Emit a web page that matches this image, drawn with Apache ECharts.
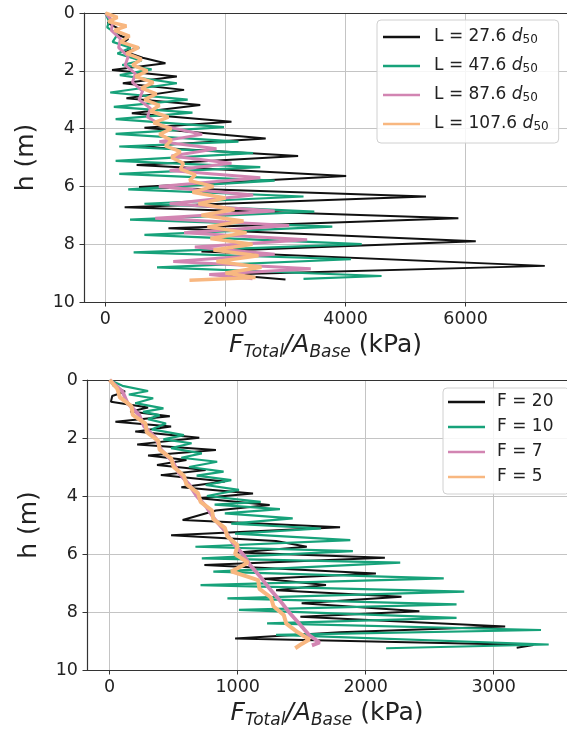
<!DOCTYPE html>
<html><head><meta charset="utf-8">
<script src="https://cdn.jsdelivr.net/npm/echarts@6/dist/echarts.min.js"></script>
<style>html,body{margin:0;padding:0;background:#fff}#c{width:567px;height:731px}</style>
</head><body><div id="c"></div>
<script>
// ---------- Top panel: L variation ----------
const topNames = ['L = 27.6 d50', 'L = 47.6 d50', 'L = 87.6 d50', 'L = 107.6 d50'];
const topTicks = [0, 2000, 4000, 6000];
const tbH = [0, 0.2, 0.35, 0.55, 0.7, 0.9, 1.05, 1.2, 1.34, 1.55,
  1.74, 1.97, 2.2, 2.43, 2.66, 2.95, 3.18, 3.47, 3.76, 3.97,
  4.34, 4.62, 4.95, 5.26, 5.64, 6.02, 6.35, 6.72, 7.1, 7.45,
  7.9, 8.25, 8.75, 9.05, 9.22];
const tbF = [0, 90, 40, 230, 150, 380, 280, 560, 330, 620,
  1000, 110, 1190, 290, 1310, 350, 1580, 440, 2100, 650,
  2670, 520, 3210, 520, 4010, 560, 5340, 320, 5880, 1050,
  6170, 1600, 7320, 2000, 3000];
const tgH = [0, 0.3, 0.5, 0.75, 1.0, 1.2, 1.4, 1.65, 1.8, 1.95,
  2.15, 2.43, 2.75, 3.0, 3.25, 3.45, 3.67, 3.95, 4.18, 4.45,
  4.62, 4.85, 5.12, 5.33, 5.57, 5.8, 6.1, 6.35, 6.6, 6.87,
  7.15, 7.39, 7.68, 8.0, 8.28, 8.52, 8.8, 9.1, 9.2];
const tgF = [0, 60, 30, 200, 120, 420, 200, 600, 280, 770,
  240, 1190, 80, 1370, 140, 1450, 170, 1975, 170, 2216,
  230, 2460, 170, 2580, 230, 2820, 380, 3300, 650, 3480,
  410, 3780, 650, 4270, 470, 4090, 860, 4600, 3300];
const tpH = [0, 0.3, 0.6, 0.9, 1.2, 1.5, 1.8, 2.1, 2.4, 2.7,
  3.0, 3.3, 3.6, 3.9, 4.2, 4.45, 4.7, 4.95, 5.2, 5.45,
  5.7, 6.0, 6.3, 6.6, 6.85, 7.1, 7.35, 7.6, 7.85, 8.1,
  8.35, 8.6, 8.85, 9.05, 9.2];
const tpF = [0, 120, 100, 250, 220, 380, 330, 500, 450, 620,
  560, 750, 700, 950, 1610, 900, 1850, 1100, 2100, 1070,
  2580, 890, 2460, 1070, 2820, 830, 3060, 1310, 3360, 1490,
  2820, 1130, 3420, 1730, 2450];
const toH = [0, 0.15, 0.3, 0.45, 0.6, 0.8, 1.0, 1.2, 1.4, 1.6,
  1.8, 2.0, 2.2, 2.4, 2.6, 2.8, 3.0, 3.2, 3.4, 3.6,
  3.8, 4.0, 4.2, 4.4, 4.6, 4.8, 5.0, 5.2, 5.4, 5.6,
  5.8, 6.0, 6.2, 6.4, 6.6, 6.8, 7.0, 7.2, 7.4, 7.6,
  7.8, 8.0, 8.2, 8.4, 8.6, 8.8, 9.0, 9.15, 9.25];
const toF = [0, 200, 50, 350, 150, 400, 250, 550, 350, 600,
  450, 700, 500, 800, 600, 850, 650, 900, 750, 1050,
  800, 1100, 900, 1100, 1000, 1250, 1100, 1300, 1250, 1500,
  1400, 1800, 1450, 2000, 1550, 2150, 1600, 2300, 1700, 2350,
  1750, 2450, 1800, 2550, 1850, 2600, 2000, 2500, 1400];

// ---------- Bottom panel: F variation ----------
const botNames = ['F = 20', 'F = 10', 'F = 7', 'F = 5'];
const botTicks = [0, 1000, 2000, 3000];
const bbH = [0, 0.2, 0.4, 0.55, 0.75, 0.95, 1.09, 1.25, 1.44, 1.6,
  1.78, 1.99, 2.22, 2.41, 2.6, 2.76, 2.93, 3.1, 3.28, 3.5,
  3.7, 3.91, 4.08, 4.31, 4.5, 4.83, 5.08, 5.35, 5.55, 5.75,
  5.95, 6.13, 6.38, 6.67, 6.85, 7.07, 7.25, 7.47, 7.7, 7.97,
  8.16, 8.5, 8.7, 8.91, 9.14, 9.23];
const bbF = [0, 30, 120, 20, 10, 300, 160, 470, 45, 480,
  200, 700, 215, 830, 300, 600, 370, 750, 400, 900,
  560, 1120, 700, 1250, 830, 570, 1800, 480, 1300, 1540,
  1000, 2150, 740, 2080, 1200, 1690, 1300, 2280, 1500, 2420,
  1490, 3090, 1800, 980, 3310, 3180];
const bgH = [0, 0.2, 0.38, 0.5, 0.63, 0.8, 0.98, 1.1, 1.21, 1.35,
  1.5, 1.7, 1.9, 2.05, 2.18, 2.35, 2.53, 2.68, 2.82, 3.0,
  3.16, 3.3, 3.45, 3.62, 3.79, 4.0, 4.2, 4.3, 4.45, 4.6,
  4.77, 4.95, 5.12, 5.3, 5.52, 5.75, 5.9, 6.15, 6.3, 6.61,
  6.84, 7.07, 7.3, 7.53, 7.74, 7.93, 8.2, 8.39, 8.62, 8.79,
  9.12, 9.25];
const bgF = [0, 100, 300, 150, 340, 200, 420, 260, 390, 300,
  440, 330, 580, 420, 640, 480, 720, 560, 840, 620,
  890, 680, 950, 750, 1010, 760, 1180, 820, 1330, 900,
  1430, 950, 1650, 980, 1880, 670, 1900, 720, 2270, 810,
  2610, 710, 2770, 920, 2710, 1010, 2710, 1230, 3370, 1300,
  3430, 2160];
const bpH = [0, 0.4, 0.8, 1.2, 1.6, 2.0, 2.4, 2.8, 3.2, 3.6,
  4.0, 4.4, 4.8, 5.2, 5.6, 6.0, 6.4, 6.8, 7.2, 7.6,
  8.0, 8.4, 8.8, 9.05, 9.15];
const bpF = [0, 100, 140, 230, 270, 360, 400, 490, 540, 620,
  680, 760, 820, 900, 960, 1040, 1100, 1180, 1250, 1330,
  1400, 1480, 1560, 1640, 1580];
const boH = [0, 0.3, 0.6, 0.9, 1.2, 1.5, 1.8, 2.1, 2.4, 2.7,
  3.0, 3.3, 3.6, 3.9, 4.2, 4.5, 4.8, 5.1, 5.4, 5.7,
  6.0, 6.3, 6.6, 6.9, 7.2, 7.5, 7.8, 8.1, 8.4, 8.7,
  8.95, 9.1, 9.25];
const boF = [0, 60, 80, 170, 180, 280, 290, 380, 390, 480,
  500, 580, 600, 690, 710, 800, 810, 900, 920, 1000,
  980, 1080, 950, 1160, 1170, 1260, 1280, 1360, 1380, 1470,
  1560, 1500, 1450];

const yTicksMax = 10;
const colors = ['#111111', '#17a27a', '#d285b2', '#f8b780'];
const topWidths = [2, 2.2, 3, 3.5];
const botWidths = [2, 2.2, 3.8, 4];
const SPINE = '#333';

const FONT = 'DejaVu Sans';
const pairs = (h, f) => h.map((v, i) => [f[i], v]);

const chart = echarts.init(document.getElementById('c'), null, {renderer: 'canvas'});

const xName = '{it|F}{sub|Total}{it|/A}{sub|Base}{n| (kPa)}';
const nameRich = {
  it: {fontFamily: FONT, fontStyle: 'italic', fontSize: 25, color: '#222'},
  sub: {fontFamily: FONT, fontStyle: 'italic', fontSize: 17, color: '#222', padding: [14, 0, 0, 0]},
  n: {fontFamily: FONT, fontSize: 25, color: '#222'}
};

function xAxisCfg(gi, min, max, ticks) {
  return {
    type: 'value', gridIndex: gi, min: min, max: max, position: 'bottom',
    axisLine: {show: true, onZero: false, lineStyle: {color: SPINE, width: 1.2}},
    axisTick: {show: true, length: 4.5, customValues: ticks, lineStyle: {color: SPINE, width: 1}},
    axisLabel: {customValues: ticks, formatter: v => String(v), fontFamily: FONT, fontSize: 17.5, color: '#222', margin: 8},
    splitLine: {show: true, lineStyle: {color: '#c4c4c4', width: 1}},
    name: xName, nameLocation: 'middle', nameGap: 28,
    nameTextStyle: {rich: nameRich, fontFamily: FONT, fontSize: 25, color: '#222'}
  };
}
function xTopSpine(gi, min, max) {
  return {
    type: 'value', gridIndex: gi, min: min, max: max, position: 'top',
    axisLine: {show: true, onZero: false, lineStyle: {color: SPINE, width: 1.2}},
    axisTick: {show: false}, axisLabel: {show: false}, splitLine: {show: false}
  };
}
function yAxisCfg(gi) {
  return {
    type: 'value', gridIndex: gi, min: 0, max: yTicksMax, interval: 2, inverse: true,
    axisLine: {show: true, onZero: false, lineStyle: {color: SPINE, width: 1.2}},
    axisTick: {show: true, length: 4.5, lineStyle: {color: SPINE, width: 1}},
    axisLabel: {fontFamily: FONT, fontSize: 17.5, color: '#222', margin: 9},
    splitLine: {show: true, lineStyle: {color: '#c4c4c4', width: 1}},
    name: 'h (m)', nameLocation: 'middle', nameGap: 45,
    nameTextStyle: {fontFamily: FONT, fontSize: 25, color: '#222'}
  };
}

function mkSeries(name, data, idx, gi, w) {
  return {
    type: 'line', name: name, xAxisIndex: gi, yAxisIndex: gi, data: data,
    symbol: 'none', showSymbol: false, smooth: false,
    lineStyle: {color: colors[idx], width: w},
    itemStyle: {color: colors[idx]},
    z: 2 + idx
  };
}

const topData = [pairs(tbH, tbF), pairs(tgH, tgF), pairs(tpH, tpF), pairs(toH, toF)];
const botData = [pairs(bbH, bbF), pairs(bgH, bgF), pairs(bpH, bpF), pairs(boH, boF)];

const series = [];
topNames.forEach((n, i) => series.push(mkSeries(n, topData[i], i, 0, topWidths[i])));
botNames.forEach((n, i) => series.push(mkSeries(n, botData[i], i, 1, botWidths[i])));

const legendBase = {
  orient: 'vertical', icon: 'rect', itemWidth: 37, itemHeight: 2.5,
  backgroundColor: 'rgba(255,255,255,0.85)', borderColor: '#d0d0d0', borderWidth: 1, borderRadius: 4
};

const topMin = -357, topMax = 7690, botMin = -177, botMax = 3573;

chart.setOption({
  animation: false,
  backgroundColor: '#fff',
  grid: [
    {left: 84, top: 13, right: 0, height: 289, outerBoundsMode: 'none', containLabel: false, show: false},
    {left: 87, top: 380, right: 0, height: 290, outerBoundsMode: 'none', containLabel: false, show: false}
  ],
  xAxis: [xAxisCfg(0, topMin, topMax, topTicks), xAxisCfg(1, botMin, botMax, botTicks),
          xTopSpine(0, topMin, topMax), xTopSpine(1, botMin, botMax)],
  yAxis: [yAxisCfg(0), yAxisCfg(1)],
  legend: [
    Object.assign({}, legendBase, {
      data: topNames, left: 377, top: 20, itemGap: 9, padding: [7, 10, 9, 6],
      formatter: n => n.replace('d50', '{i|d}{s|50}'),
      textStyle: {fontFamily: FONT, fontSize: 17, color: '#222', lineHeight: 20, padding: [0, 0, 0, 9],
        rich: {
          i: {fontFamily: FONT, fontStyle: 'italic', fontSize: 17, color: '#222', lineHeight: 20},
          s: {fontFamily: FONT, fontSize: 12, color: '#222', lineHeight: 14, padding: [6, 0, 0, 0]}
        }}
    }),
    Object.assign({}, legendBase, {
      data: botNames, left: 443, top: 388, itemGap: 5, padding: [4, 6, 7, 5],
      textStyle: {fontFamily: FONT, fontSize: 17, color: '#222', lineHeight: 20, padding: [0, 10, 0, 7]}
    })
  ],
  series: series
});
</script>
</body></html>
